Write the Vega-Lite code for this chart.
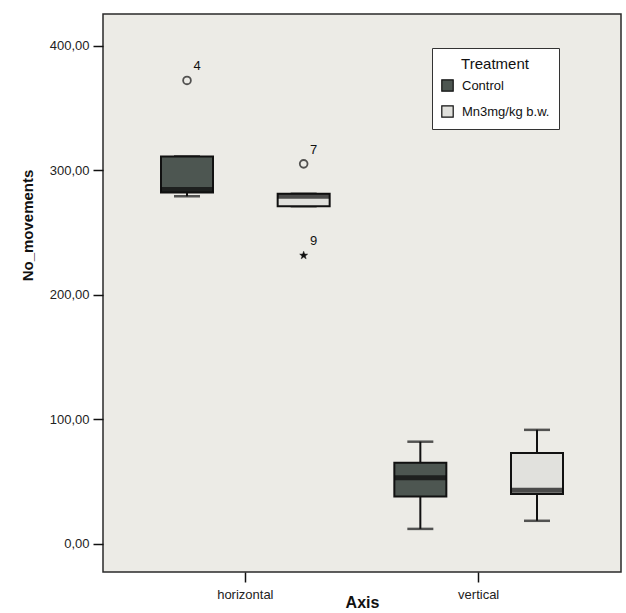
{
  "$schema": "https://vega.github.io/schema/vega-lite/v6.json",
  "width": 518,
  "height": 558,
  "autosize": {"type": "none"},
  "padding": {"left": 103, "top": 14, "right": 5, "bottom": 41},
  "background": "white",
  "config": {
    "font": "Liberation Sans",
    "view": {"fill": "#ecebe6", "stroke": "#2a2a2a", "strokeWidth": 1.5},
    "axis": {"grid": false, "domain": false, "tickColor": "#111", "tickWidth": 1.5, "tickSize": 10, "labelColor": "#222", "labelFontSize": 13, "titleColor": "#111", "titleFontWeight": "bold"},
    "legend": {"strokeColor": "#333", "fillColor": "white", "padding": 9, "cornerRadius": 0}
  },
  "datasets": {
    "boxes": [
      {"Axis": "horizontal", "Treatment": "Control", "min": 279, "q1": 282, "median": 284.5, "q3": 311, "max": 311},
      {"Axis": "horizontal", "Treatment": "Mn3mg/kg b.w.", "min": 271, "q1": 271, "median": 279, "q3": 281, "max": 281},
      {"Axis": "vertical", "Treatment": "Control", "min": 12, "q1": 38, "median": 53, "q3": 65, "max": 82},
      {"Axis": "vertical", "Treatment": "Mn3mg/kg b.w.", "min": 18.5, "q1": 40, "median": 43, "q3": 73, "max": 91.5}
    ],
    "outliers": [
      {"Axis": "horizontal", "Treatment": "Control", "value": 372, "case": "4", "kind": "outlier"},
      {"Axis": "horizontal", "Treatment": "Mn3mg/kg b.w.", "value": 305, "case": "7", "kind": "outlier"},
      {"Axis": "horizontal", "Treatment": "Mn3mg/kg b.w.", "value": 231.5, "case": "9", "kind": "extreme"}
    ]
  },
  "encoding": {
    "x": {
      "field": "Axis", "type": "nominal", "title": "Axis",
      "scale": {"domain": ["horizontal", "vertical"], "paddingInner": 0, "paddingOuter": 0.11},
      "axis": {"labelAngle": 0, "labelPadding": 6, "titleFontSize": 16, "titleY": 30, "titleBaseline": "middle", "titleX": 259}
    },
    "xOffset": {
      "field": "Treatment", "type": "nominal",
      "scale": {"domain": ["Control", "Mn3mg/kg b.w."], "paddingInner": 0, "paddingOuter": 0}
    }
  },
  "layer": [
    {
      "data": {"name": "boxes"},
      "mark": {"type": "rule", "color": "#111", "strokeWidth": 2},
      "encoding": {
        "y": {
          "field": "min", "type": "quantitative", "title": "No_movements",
          "scale": {"domain": [-22.6, 425.3], "nice": false, "zero": false},
          "axis": {"values": [0, 100, 200, 300, 400], "labelExpr": "replace(format(datum.value, '.2f'), '.', ',')", "labelPadding": 4, "titleFontSize": 15, "titleX": -76, "titleY": 211, "titleBaseline": "middle", "titleAlign": "center", "titleAngle": 270}
        },
        "y2": {"field": "max"}
      }
    },
    {
      "data": {"name": "boxes"},
      "mark": {"type": "tick", "color": "#111", "size": 26, "thickness": 2.5},
      "encoding": {"y": {"field": "min", "type": "quantitative", "title": "No_movements"}}
    },
    {
      "data": {"name": "boxes"},
      "mark": {"type": "tick", "color": "#111", "size": 26, "thickness": 2.5},
      "encoding": {"y": {"field": "max", "type": "quantitative", "title": "No_movements"}}
    },
    {
      "data": {"name": "boxes"},
      "mark": {"type": "bar", "size": 52, "stroke": "#111", "strokeWidth": 2},
      "encoding": {
        "y": {"field": "q1", "type": "quantitative", "title": "No_movements"},
        "y2": {"field": "q3"},
        "fill": {
          "field": "Treatment", "type": "nominal", "title": "Treatment",
          "scale": {"domain": ["Control", "Mn3mg/kg b.w."], "range": ["#4d5651", "#e1e1dd"]},
          "legend": {"orient": "none", "legendX": 329, "legendY": 34, "titleFontSize": 15, "titleFontWeight": "normal", "titleAnchor": "middle", "titleColor": "#111", "titlePadding": 7, "labelFontSize": 13, "labelColor": "#111", "symbolType": "square", "symbolSize": 130, "symbolStrokeColor": "#111", "symbolStrokeWidth": 1.2, "rowPadding": 9, "labelOffset": 8}
        }
      }
    },
    {
      "data": {"name": "boxes"},
      "mark": {"type": "tick", "color": "#0a0a0a", "size": 52, "thickness": 5},
      "encoding": {"y": {"field": "median", "type": "quantitative", "title": "No_movements"}}
    },
    {
      "data": {"name": "outliers"},
      "transform": [{"filter": "datum.kind === 'outlier'"}],
      "mark": {"type": "point", "shape": "circle", "filled": false, "stroke": "#111", "strokeWidth": 1.8, "size": 60},
      "encoding": {"y": {"field": "value", "type": "quantitative", "title": "No_movements"}}
    },
    {
      "data": {"name": "outliers"},
      "transform": [{"filter": "datum.kind === 'extreme'"}],
      "mark": {"type": "point", "shape": "M0,-1L0.235,-0.324L0.951,-0.309L0.38,0.124L0.588,0.809L0,0.4L-0.588,0.809L-0.38,0.124L-0.951,-0.309L-0.235,-0.324Z", "filled": true, "fill": "#111", "stroke": "#111", "strokeWidth": 0.5, "size": 70, "opacity": 1},
      "encoding": {"y": {"field": "value", "type": "quantitative", "title": "No_movements"}}
    },
    {
      "data": {"name": "outliers"},
      "mark": {"type": "text", "dx": 10, "dy": -14, "fontSize": 13, "color": "#111"},
      "encoding": {
        "y": {"field": "value", "type": "quantitative", "title": "No_movements"},
        "text": {"field": "case"}
      }
    }
  ]
}
